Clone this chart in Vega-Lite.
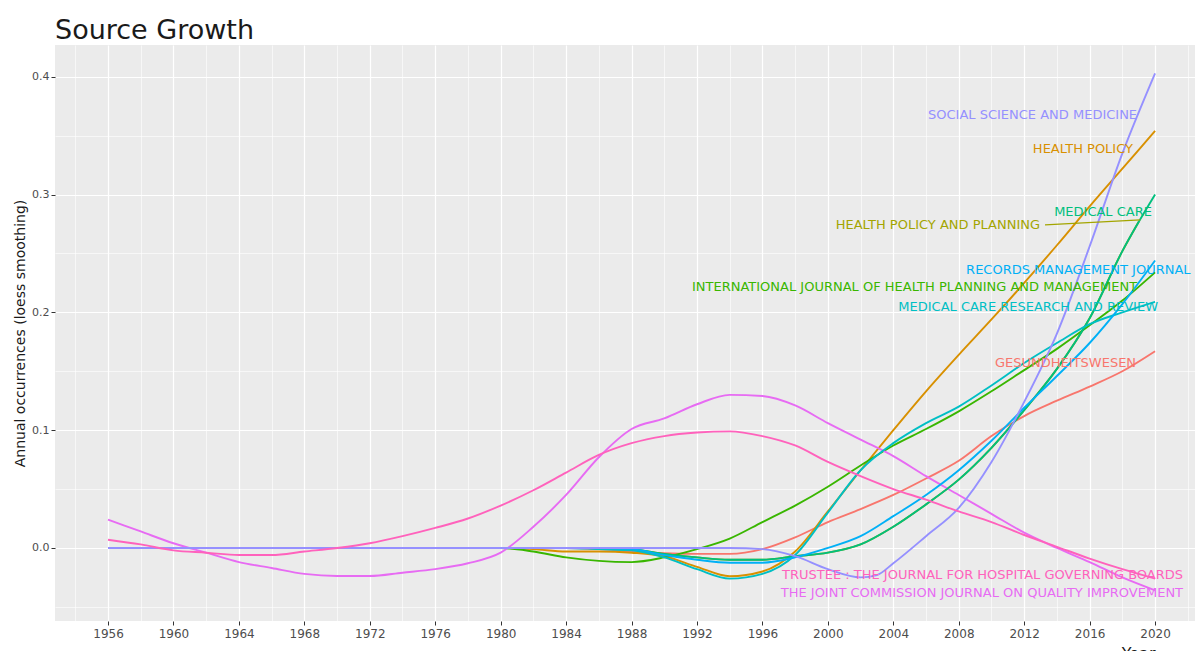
{
  "$schema": "https://vega.github.io/schema/vega-lite/v6.json",
  "autosize": {"type": "none"},
  "padding": {"left": 55, "top": 45, "right": 0, "bottom": 30},
  "width": 1140,
  "height": 576,
  "background": "white",
  "title": {"text": "Source Growth", "anchor": "start", "frame": "group", "font": "DejaVu Sans", "fontSize": 27, "fontWeight": "normal", "color": "#1a1a1a", "baseline": "alphabetic", "offset": 8, "dy": 29},
  "config": {"view": {"fill": "#EBEBEB", "stroke": null}, "font": "DejaVu Sans"},
  "datasets": {
    "lines": [
      {"series":"GES","year":1956,"value":0},{"series":"GES","year":1984,"value":0},{"series":"GES","year":1986,"value":-0.001},{"series":"GES","year":1988,"value":-0.003},{"series":"GES","year":1990,"value":-0.0045},{"series":"GES","year":1992,"value":-0.005},{"series":"GES","year":1994,"value":-0.005},{"series":"GES","year":1996,"value":-0.001},{"series":"GES","year":1998,"value":0.009},{"series":"GES","year":2000,"value":0.022},{"series":"GES","year":2002,"value":0.033},{"series":"GES","year":2004,"value":0.045},{"series":"GES","year":2006,"value":0.059},{"series":"GES","year":2008,"value":0.074},{"series":"GES","year":2010,"value":0.095},{"series":"GES","year":2012,"value":0.112},{"series":"GES","year":2014,"value":0.125},{"series":"GES","year":2016,"value":0.137},{"series":"GES","year":2018,"value":0.150},{"series":"GES","year":2020,"value":0.167},
      {"series":"HP","year":1956,"value":0},{"series":"HP","year":1980,"value":0},{"series":"HP","year":1982,"value":-0.001},{"series":"HP","year":1984,"value":-0.003},{"series":"HP","year":1986,"value":-0.003},{"series":"HP","year":1988,"value":-0.004},{"series":"HP","year":1990,"value":-0.007},{"series":"HP","year":1992,"value":-0.016},{"series":"HP","year":1994,"value":-0.024},{"series":"HP","year":1996,"value":-0.020},{"series":"HP","year":1998,"value":-0.003},{"series":"HP","year":2000,"value":0.031},{"series":"HP","year":2002,"value":0.066},{"series":"HP","year":2004,"value":0.100},{"series":"HP","year":2006,"value":0.133},{"series":"HP","year":2008,"value":0.164},{"series":"HP","year":2010,"value":0.194},{"series":"HP","year":2012,"value":0.225},{"series":"HP","year":2014,"value":0.257},{"series":"HP","year":2016,"value":0.290},{"series":"HP","year":2018,"value":0.322},{"series":"HP","year":2020,"value":0.354},
      {"series":"HPP","year":1956,"value":0},{"series":"HPP","year":1986,"value":0},{"series":"HPP","year":1988,"value":-0.001},{"series":"HPP","year":1990,"value":-0.005},{"series":"HPP","year":1992,"value":-0.008},{"series":"HPP","year":1994,"value":-0.010},{"series":"HPP","year":1996,"value":-0.010},{"series":"HPP","year":1998,"value":-0.007},{"series":"HPP","year":2000,"value":-0.004},{"series":"HPP","year":2002,"value":0.003},{"series":"HPP","year":2004,"value":0.018},{"series":"HPP","year":2006,"value":0.037},{"series":"HPP","year":2008,"value":0.058},{"series":"HPP","year":2010,"value":0.085},{"series":"HPP","year":2012,"value":0.117},{"series":"HPP","year":2014,"value":0.152},{"series":"HPP","year":2016,"value":0.195},{"series":"HPP","year":2018,"value":0.252},{"series":"HPP","year":2019,"value":0.277},
      {"series":"IJHPM","year":1956,"value":0},{"series":"IJHPM","year":1980,"value":0},{"series":"IJHPM","year":1982,"value":-0.003},{"series":"IJHPM","year":1984,"value":-0.008},{"series":"IJHPM","year":1986,"value":-0.011},{"series":"IJHPM","year":1988,"value":-0.012},{"series":"IJHPM","year":1990,"value":-0.008},{"series":"IJHPM","year":1992,"value":-0.001},{"series":"IJHPM","year":1994,"value":0.008},{"series":"IJHPM","year":1996,"value":0.022},{"series":"IJHPM","year":1998,"value":0.036},{"series":"IJHPM","year":2000,"value":0.052},{"series":"IJHPM","year":2002,"value":0.070},{"series":"IJHPM","year":2004,"value":0.087},{"series":"IJHPM","year":2006,"value":0.101},{"series":"IJHPM","year":2008,"value":0.116},{"series":"IJHPM","year":2010,"value":0.133},{"series":"IJHPM","year":2012,"value":0.151},{"series":"IJHPM","year":2014,"value":0.169},{"series":"IJHPM","year":2016,"value":0.189},{"series":"IJHPM","year":2018,"value":0.210},{"series":"IJHPM","year":2020,"value":0.234},
      {"series":"JC","year":1956,"value":0.024},{"series":"JC","year":1958,"value":0.014},{"series":"JC","year":1960,"value":0.004},{"series":"JC","year":1962,"value":-0.004},{"series":"JC","year":1964,"value":-0.012},{"series":"JC","year":1966,"value":-0.017},{"series":"JC","year":1968,"value":-0.022},{"series":"JC","year":1970,"value":-0.0238},{"series":"JC","year":1972,"value":-0.0238},{"series":"JC","year":1974,"value":-0.021},{"series":"JC","year":1976,"value":-0.018},{"series":"JC","year":1978,"value":-0.013},{"series":"JC","year":1980,"value":-0.004},{"series":"JC","year":1982,"value":0.018},{"series":"JC","year":1984,"value":0.045},{"series":"JC","year":1986,"value":0.077},{"series":"JC","year":1988,"value":0.101},{"series":"JC","year":1990,"value":0.110},{"series":"JC","year":1992,"value":0.122},{"series":"JC","year":1994,"value":0.130},{"series":"JC","year":1996,"value":0.129},{"series":"JC","year":1998,"value":0.121},{"series":"JC","year":2000,"value":0.106},{"series":"JC","year":2002,"value":0.092},{"series":"JC","year":2004,"value":0.078},{"series":"JC","year":2006,"value":0.061},{"series":"JC","year":2008,"value":0.045},{"series":"JC","year":2010,"value":0.029},{"series":"JC","year":2012,"value":0.013},{"series":"JC","year":2014,"value":0.000},{"series":"JC","year":2016,"value":-0.012},{"series":"JC","year":2018,"value":-0.025},{"series":"JC","year":2020,"value":-0.036},
      {"series":"MC","year":1956,"value":0},{"series":"MC","year":1986,"value":0},{"series":"MC","year":1988,"value":-0.001},{"series":"MC","year":1990,"value":-0.005},{"series":"MC","year":1992,"value":-0.008},{"series":"MC","year":1994,"value":-0.010},{"series":"MC","year":1996,"value":-0.010},{"series":"MC","year":1998,"value":-0.007},{"series":"MC","year":2000,"value":-0.004},{"series":"MC","year":2002,"value":0.003},{"series":"MC","year":2004,"value":0.018},{"series":"MC","year":2006,"value":0.037},{"series":"MC","year":2008,"value":0.058},{"series":"MC","year":2010,"value":0.085},{"series":"MC","year":2012,"value":0.117},{"series":"MC","year":2014,"value":0.152},{"series":"MC","year":2016,"value":0.195},{"series":"MC","year":2018,"value":0.252},{"series":"MC","year":2020,"value":0.300},
      {"series":"MCRR","year":1956,"value":0},{"series":"MCRR","year":1984,"value":0},{"series":"MCRR","year":1986,"value":-0.001},{"series":"MCRR","year":1988,"value":-0.002},{"series":"MCRR","year":1990,"value":-0.008},{"series":"MCRR","year":1992,"value":-0.018},{"series":"MCRR","year":1994,"value":-0.026},{"series":"MCRR","year":1996,"value":-0.022},{"series":"MCRR","year":1998,"value":-0.006},{"series":"MCRR","year":2000,"value":0.030},{"series":"MCRR","year":2002,"value":0.066},{"series":"MCRR","year":2004,"value":0.089},{"series":"MCRR","year":2006,"value":0.106},{"series":"MCRR","year":2008,"value":0.120},{"series":"MCRR","year":2010,"value":0.138},{"series":"MCRR","year":2012,"value":0.157},{"series":"MCRR","year":2014,"value":0.174},{"series":"MCRR","year":2016,"value":0.190},{"series":"MCRR","year":2018,"value":0.200},{"series":"MCRR","year":2020,"value":0.209},
      {"series":"RMJ","year":1956,"value":0},{"series":"RMJ","year":1986,"value":0},{"series":"RMJ","year":1988,"value":-0.001},{"series":"RMJ","year":1990,"value":-0.006},{"series":"RMJ","year":1992,"value":-0.010},{"series":"RMJ","year":1994,"value":-0.0125},{"series":"RMJ","year":1996,"value":-0.0125},{"series":"RMJ","year":1998,"value":-0.008},{"series":"RMJ","year":2000,"value":0.000},{"series":"RMJ","year":2002,"value":0.010},{"series":"RMJ","year":2004,"value":0.027},{"series":"RMJ","year":2006,"value":0.045},{"series":"RMJ","year":2008,"value":0.066},{"series":"RMJ","year":2010,"value":0.091},{"series":"RMJ","year":2012,"value":0.119},{"series":"RMJ","year":2014,"value":0.146},{"series":"RMJ","year":2016,"value":0.174},{"series":"RMJ","year":2018,"value":0.207},{"series":"RMJ","year":2020,"value":0.244},
      {"series":"SSM","year":1956,"value":0},{"series":"SSM","year":1994,"value":0},{"series":"SSM","year":1996,"value":-0.001},{"series":"SSM","year":1998,"value":-0.007},{"series":"SSM","year":2000,"value":-0.018},{"series":"SSM","year":2002,"value":-0.025},{"series":"SSM","year":2003,"value":-0.023},{"series":"SSM","year":2004,"value":-0.013},{"series":"SSM","year":2006,"value":0.010},{"series":"SSM","year":2008,"value":0.034},{"series":"SSM","year":2010,"value":0.073},{"series":"SSM","year":2012,"value":0.124},{"series":"SSM","year":2014,"value":0.182},{"series":"SSM","year":2016,"value":0.256},{"series":"SSM","year":2018,"value":0.335},{"series":"SSM","year":2020,"value":0.403},
      {"series":"TR","year":1956,"value":0.007},{"series":"TR","year":1958,"value":0.003},{"series":"TR","year":1960,"value":-0.002},{"series":"TR","year":1962,"value":-0.004},{"series":"TR","year":1964,"value":-0.006},{"series":"TR","year":1966,"value":-0.006},{"series":"TR","year":1968,"value":-0.003},{"series":"TR","year":1970,"value":0.000},{"series":"TR","year":1972,"value":0.004},{"series":"TR","year":1974,"value":0.010},{"series":"TR","year":1976,"value":0.017},{"series":"TR","year":1978,"value":0.025},{"series":"TR","year":1980,"value":0.036},{"series":"TR","year":1982,"value":0.049},{"series":"TR","year":1984,"value":0.064},{"series":"TR","year":1986,"value":0.079},{"series":"TR","year":1988,"value":0.089},{"series":"TR","year":1990,"value":0.095},{"series":"TR","year":1992,"value":0.098},{"series":"TR","year":1994,"value":0.099},{"series":"TR","year":1996,"value":0.095},{"series":"TR","year":1998,"value":0.087},{"series":"TR","year":2000,"value":0.073},{"series":"TR","year":2002,"value":0.061},{"series":"TR","year":2004,"value":0.050},{"series":"TR","year":2006,"value":0.041},{"series":"TR","year":2008,"value":0.031},{"series":"TR","year":2010,"value":0.022},{"series":"TR","year":2012,"value":0.011},{"series":"TR","year":2014,"value":0.001},{"series":"TR","year":2016,"value":-0.009},{"series":"TR","year":2018,"value":-0.018},{"series":"TR","year":2020,"value":-0.026}
    ],
    "labels": [
      {"series":"SSM","label":"SOCIAL SCIENCE AND MEDICINE","year":2018.9,"value":0.3677},
      {"series":"HP","label":"HEALTH POLICY","year":2018.65,"value":0.3389},
      {"series":"MC","label":"MEDICAL CARE","year":2019.81,"value":0.2853},
      {"series":"HPP","label":"HEALTH POLICY AND PLANNING","year":2012.97,"value":0.2744},
      {"series":"IJHPM","label":"INTERNATIONAL JOURNAL OF HEALTH PLANNING AND MANAGEMENT","year":2018.9,"value":0.2212},
      {"series":"MCRR","label":"MEDICAL CARE RESEARCH AND REVIEW","year":2020.18,"value":0.2049},
      {"series":"GES","label":"GESUNDHEITSWESEN","year":2018.84,"value":0.1571},
      {"series":"TR","label":"TRUSTEE : THE JOURNAL FOR HOSPITAL GOVERNING BOARDS","year":2021.71,"value":-0.0229},
      {"series":"JC","label":"THE JOINT COMMISSION JOURNAL ON QUALITY IMPROVEMENT","year":2021.71,"value":-0.0382}
    ],
    "labelsLeft": [
      {"series":"RMJ","label":"RECORDS MANAGEMENT JOURNAL","year":2008.45,"value":0.2361}
    ],
    "segments": [
      {"series":"HPP","year":2013.27,"value":0.2743,"year2":2019.1,"value2":0.2786}
    ]
  },
  "encoding": {
    "x": {"field": "year", "type": "quantitative", "title": "Year",
      "scale": {"domain": [1952.76, 2022.44], "nice": false, "zero": false},
      "axis": {
        "values": [1954,1956,1958,1960,1962,1964,1966,1968,1970,1972,1974,1976,1978,1980,1982,1984,1986,1988,1990,1992,1994,1996,1998,2000,2002,2004,2006,2008,2010,2012,2014,2016,2018,2020,2022],
        "format": "d",
        "labelExpr": "(datum.value - 1956) % 4 == 0 ? datum.label : ''",
        "domain": false,
        "grid": true,
        "gridColor": "#FFFFFF",
        "gridWidth": {"condition": {"test": "(datum.value - 1956) % 4 == 0", "value": 1.2}, "value": 0.6},
        "tickColor": "#333333",
        "tickSize": 4,
        "tickOpacity": {"condition": {"test": "(datum.value - 1956) % 4 == 0", "value": 1}, "value": 0},
        "labelColor": "#4D4D4D",
        "labelFontSize": 12,
        "labelPadding": 3,
        "labelFlush": false,
        "labelOverlap": false,
        "titleFontSize": 16,
        "titleFontWeight": "normal",
        "titleColor": "#1a1a1a",
        "titleAlign": "right",
        "titleBaseline": "top",
        "titleX": 1100,
        "titleY": 24
      }
    },
    "y": {"field": "value", "type": "quantitative", "title": "Annual occurrences (loess smoothing)",
      "scale": {"domain": [-0.062, 0.427], "nice": false, "zero": false},
      "axis": {
        "values": [-0.05,0,0.05,0.1,0.15,0.2,0.25,0.3,0.35,0.4],
        "format": ".1f",
        "labelExpr": "abs(datum.value*10 - round(datum.value*10)) < 0.001 ? datum.label : ''",
        "domain": false,
        "grid": true,
        "gridColor": "#FFFFFF",
        "gridWidth": {"condition": {"test": "abs(datum.value*10 - round(datum.value*10)) < 0.001", "value": 1.2}, "value": 0.6},
        "tickColor": "#333333",
        "tickSize": 4,
        "tickOpacity": {"condition": {"test": "abs(datum.value*10 - round(datum.value*10)) < 0.001", "value": 1}, "value": 0},
        "labelColor": "#4D4D4D",
        "labelFontSize": 11,
        "labelPadding": 2,
        "labelOverlap": false,
        "titleFontSize": 14,
        "titleFontWeight": "normal",
        "titleColor": "#1a1a1a",
        "titleAngle": -90,
        "titleAlign": "center",
        "titleBaseline": "alphabetic",
        "titleX": -31,
        "titleY": 288
      }
    },
    "color": {"field": "series", "type": "nominal", "legend": null,
      "scale": {"domain": ["GES","HP","HPP","IJHPM","MC","MCRR","RMJ","SSM","JC","TR"],
        "range": ["#F8766D","#D89000","#A3A500","#39B600","#00BF7D","#00BFC4","#00B0F6","#9590FF","#E76BF3","#FF62BC"]}}
  },
  "layer": [
    {
      "data": {"name": "lines"},
      "mark": {"type": "line", "interpolate": "monotone", "strokeWidth": 1.9}
    },
    {
      "data": {"values": [{"v": 0}]},
      "mark": {"type": "rule", "color": "#666666", "opacity": 0.6, "strokeWidth": 1.2},
      "encoding": {"y": {"datum": 0}, "x": null, "color": null}
    },
    {
      "data": {"name": "segments"},
      "mark": {"type": "rule", "strokeWidth": 1.2},
      "encoding": {"x2": {"field": "year2"}, "y2": {"field": "value2"}}
    },
    {
      "data": {"name": "labels"},
      "mark": {"type": "text", "align": "right", "baseline": "middle", "font": "DejaVu Sans", "fontSize": 13},
      "encoding": {"text": {"field": "label"}}
    },
    {
      "data": {"name": "labelsLeft"},
      "mark": {"type": "text", "align": "left", "baseline": "middle", "font": "DejaVu Sans", "fontSize": 13},
      "encoding": {"text": {"field": "label"}}
    }
  ]
}
